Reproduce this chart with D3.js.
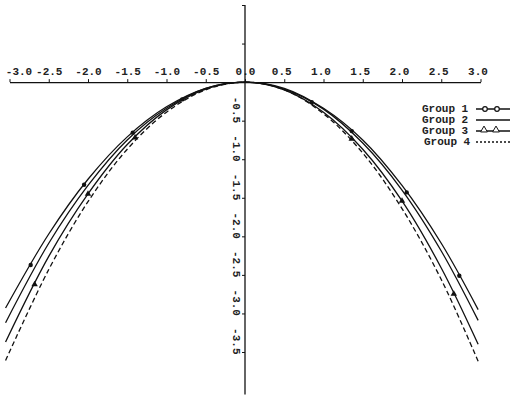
<!DOCTYPE html>
<html>
<meta charset="utf-8">
<head>
<style>
body { margin:0; padding:0; background:#fff; }
svg { display:block; }
.axis text, .legend text {
  font-family: "Liberation Mono", "DejaVu Sans Mono", monospace;
  font-size: 11px;
  font-weight: bold;
  fill: #222;
}
.axis path, .axis line { stroke:#111; }
.curve { fill:none; stroke:#111; stroke-width:1.3; }
</style>
</head>
<body>
<svg></svg>
<script src="https://d3js.org/d3.v7.min.js"></script>
<script>

var width = 511, height = 399;

// x positions where the curves were read
var xs = [-3.05, -2.5, -2.0, -1.5, -1.0, -0.5, 0.0, 0.5, 1.0, 1.5, 2.0, 2.5, 2.97];

var group1 = [-2.93, -1.97, -1.26, -0.71, -0.32, -0.08, 0, -0.08, -0.34, -0.75, -1.34, -2.09, -2.95];
var group2 = [-3.12, -2.09, -1.34, -0.75, -0.34, -0.08, 0, -0.09, -0.35, -0.79, -1.40, -2.19, -3.09];
var group3 = [-3.37, -2.26, -1.45, -0.81, -0.36, -0.09, 0, -0.10, -0.39, -0.87, -1.54, -2.41, -3.40];
var group4 = [-3.61, -2.43, -1.55, -0.87, -0.39, -0.10, 0, -0.10, -0.41, -0.92, -1.64, -2.56, -3.62];

// marker positions on the curves
var g1Marks = [-2.73, -2.05, -1.43, -0.8, 0.85, 1.36, 2.06, 2.73];
var g3Marks = [-2.68, -2.0, -1.4, 1.36, 2.0, 2.66];

var xTicks = [-3.0, -2.5, -2.0, -1.5, -1.0, -0.5, 0.0, 0.5, 1.0, 1.5, 2.0, 2.5, 3.0];
var yTicks = [1.0, 0.5, -0.5, -1.0, -1.5, -2.0, -2.5, -3.0, -3.5];
var groups = ["Group 1", "Group 2", "Group 3", "Group 4"];

var svg = d3.select("svg").attr("width", width).attr("height", height);

var x = d3.scaleLinear().domain([-3, 3]).range([9.5, 480.5]);
var y = d3.scaleLinear().domain([1, -3.5]).range([5, 352]);

// x axis (labels above)
var xAxis = svg.append("g")
    .attr("class", "axis")
    .attr("transform", "translate(0," + y(0) + ")")
    .call(d3.axisTop(x).tickValues(xTicks).tickSizeInner(3).tickSizeOuter(0).tickPadding(4)
      .tickFormat(function(d) { return d.toFixed(1); }));
xAxis.select(".domain").attr("stroke-width", 1.3);
xAxis.selectAll(".tick text").attr("dx", function(d) {
  if (d == -3) return 9;
  return d > 0 ? -3 : 0;
});

// y axis, labels rotated
var yAxis = svg.append("g")
    .attr("class", "axis")
    .attr("transform", "translate(" + x(0) + ",0)")
    .call(d3.axisLeft(y).tickValues(yTicks).tickSizeInner(3).tickSizeOuter(0)
      .tickFormat(function(d) { return d < 0 ? d.toFixed(1) : ""; }));
yAxis.select(".domain").attr("d", "M0," + y(1) + "V" + y(-4.05)).attr("stroke-width", 1.3);
yAxis.selectAll(".tick text")
    .attr("x", null).attr("dy", null)
    .attr("text-anchor", "end")
    .attr("transform", "translate(-12,2) rotate(90)");

var line = d3.line()
    .x(function(d) { return x(d[0]); })
    .y(function(d) { return y(d[1]); })
    .curve(d3.curveCatmullRom);

var series = [group1, group2, group3, group4];
series.forEach(function(s, i) {
  svg.append("path")
      .attr("class", "curve")
      .attr("d", line(xs.map(function(v, j) { return [v, s[j]]; })))
      .attr("stroke-dasharray", i == 3 ? "5,3" : null);
});

function interp(s, v) {
  return d3.scaleLinear().domain(xs).range(s)(v);
}

var tri = d3.symbol().type(d3.symbolTriangle).size(18);

svg.selectAll(".m1").data(g1Marks).enter().append("circle")
    .attr("class", "m1")
    .attr("cx", function(d) { return x(d); })
    .attr("cy", function(d) { return y(interp(group1, d)); })
    .attr("r", 2.2).attr("fill", "#111");

svg.selectAll(".m3").data(g3Marks).enter().append("path")
    .attr("class", "m3")
    .attr("d", tri)
    .attr("transform", function(d) { return "translate(" + x(d) + "," + y(interp(group3, d)) + ")"; })
    .attr("fill", "#111");

// legend
var legend = svg.append("g").attr("class", "legend");
groups.forEach(function(g, i) {
  var ly = 109 + i * 11;
  legend.append("text").attr("x", i == 3 ? 424 : 422).attr("y", ly + 3).text(g);
  legend.append("line")
      .attr("x1", 476).attr("x2", 510).attr("y1", ly).attr("y2", ly)
      .attr("stroke", "#111").attr("stroke-width", 1.3)
      .attr("stroke-dasharray", i == 3 ? "2,2" : null);
  if (i == 0) {
    [485, 497].forEach(function(cx) {
      legend.append("circle").attr("cx", cx).attr("cy", ly).attr("r", 2.3)
        .attr("fill", "#fff").attr("stroke", "#111").attr("stroke-width", 1.2);
    });
  }
  if (i == 2) {
    [484, 496].forEach(function(cx) {
      legend.append("path").attr("d", d3.symbol().type(d3.symbolTriangle).size(20))
        .attr("transform", "translate(" + cx + "," + (ly - 1) + ")")
        .attr("fill", "#fff").attr("stroke", "#111").attr("stroke-width", 1);
    });
  }
});

</script>
</body>
</html>
